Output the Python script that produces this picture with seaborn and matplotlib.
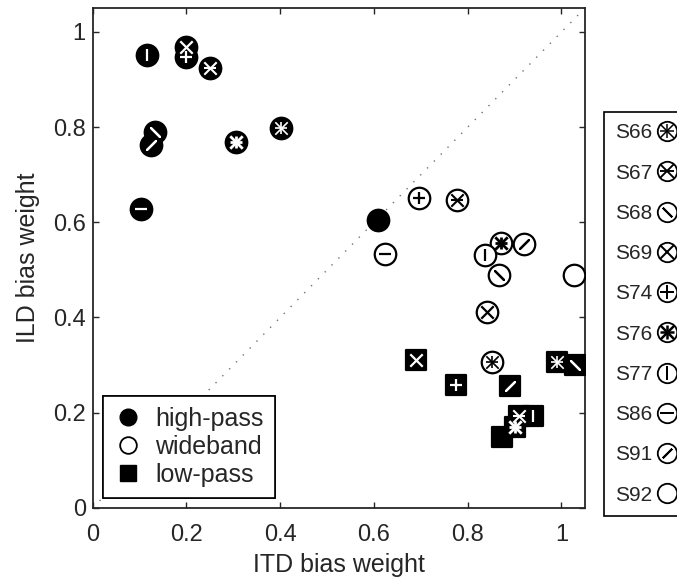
"""Scatter of ITD vs ILD bias weights,
one symbol per subject, fill/shape per filter condition.
"""
import numpy as np
import pandas as pd

import seaborn as sea
import matplotlib.pyplot as plt
from matplotlib.lines import Line2D

sea.set_style("ticks")
plt.rcParams["font.family"] = ["Liberation Sans", "DejaVu Sans"]
plt.rcParams["font.size"] = 17


subjects = ["S66", "S67", "S68", "S69", "S74", "S76", "S77", "S86", "S91", "S92"]

highpass_itd = [0.401, 0.250, 0.133, 0.199, 0.199, 0.306, 0.115, 0.104, 0.125, 0.609]
highpass_ild = [0.798, 0.925, 0.789, 0.969, 0.948, 0.768, 0.951, 0.627, 0.763, 0.604]

wideband_itd = [0.852, 0.777, 0.867, 0.841, 0.696, 0.871, 0.836, 0.623, 0.919, 1.026]
wideband_ild = [0.306, 0.646, 0.490, 0.411, 0.650, 0.556, 0.531, 0.533, 0.554, 0.490]

lowpass_itd = [0.991, 0.909, 1.029, 0.689, 0.775, 0.901, 0.940, np.nan, 0.891, 0.874]
lowpass_ild = [0.306, 0.192, 0.301, 0.311, 0.259, 0.170, 0.192, np.nan, 0.255, 0.149]

tick_vals = [0, 0.2, 0.4, 0.6, 0.8, 1]
tick_labels = ["0", "0.2", "0.4", "0.6", "0.8", "1"]


df = pd.concat([
    pd.DataFrame({"subject": subjects, "itd": highpass_itd, "ild": highpass_ild, "cond": "high-pass"}),
    pd.DataFrame({"subject": subjects, "itd": wideband_itd, "ild": wideband_ild, "cond": "wideband"}),
    pd.DataFrame({"subject": subjects, "itd": lowpass_itd, "ild": lowpass_ild, "cond": "low-pass"}),
]).dropna()


# symbol drawn inside each marker, per subject (markers, line width)
SUBJECT_SYMBOLS = {
    "S66": (["+", "x"], 1.2),
    "S67": (["x", "_"], 1.5),
    "S68": ([(2, 2, 45)], 1.6),
    "S69": (["x"], 1.6),
    "S74": (["+"], 1.6),
    "S76": (["+", "x"], 2.0),
    "S77": (["|"], 1.6),
    "S86": (["_"], 1.6),
    "S91": ([(2, 2, -45)], 1.6),
    "S92": ([], 1.6),
}

COND_STYLE = {
    # marker, face, symbol color, size
    "high-pass": ("o", "black", "white", 240),
    "wideband": ("o", "white", "black", 240),
    "low-pass": ("s", "black", "white", 210),
}
SYMBOL_SIZE = 80


fig = plt.figure(figsize=(6.77, 5.83), dpi=100)
ax = fig.add_axes([0.137, 0.129, 0.727, 0.857])

LIM = 1.05
ax.plot([0, LIM], [0, LIM], color="0.45", lw=1, ls=(0, (1, 6)), zorder=1)

z = 2
for cond, cdf in df.groupby("cond", sort=False):
    marker, face, symcolor, size = COND_STYLE[cond]
    sea.scatterplot(data=cdf, x="itd", y="ild",
        marker=marker, s=size, color=face, edgecolor="black",
        linewidth=1.6, zorder=z, legend=False, ax=ax)
    for subj, sdf in cdf.groupby("subject"):
        syms, lw = SUBJECT_SYMBOLS[subj]
        for sym in syms:
            ax.scatter(sdf["itd"], sdf["ild"], marker=sym, s=SYMBOL_SIZE,
                c=symcolor, linewidths=lw, zorder=z + 1)
    z += 2

ax.set_xlim(0, LIM)
ax.set_ylim(0, LIM)
ax.set_xticks(tick_vals, tick_labels)
ax.set_yticks(tick_vals, tick_labels)
ax.tick_params(direction="in", top=True, right=True, length=4, width=1,
    labelsize=17)
ax.tick_params(axis="x", pad=12)
ax.tick_params(axis="y", pad=5)
for sp in ax.spines.values():
    sp.set_linewidth(1.3)
ax.set_xlabel("ITD bias weight", fontsize=18, labelpad=5)
ax.set_ylabel("ILD bias weight", fontsize=18, labelpad=9)

# condition legend inside the axes
cond_handles = [
    Line2D([], [], ls="", marker="o", ms=12, mfc="black", mec="black"),
    Line2D([], [], ls="", marker="o", ms=12, mfc="white", mec="black", mew=1.3),
    Line2D([], [], ls="", marker="s", ms=11, mfc="black", mec="black"),
]
leg = ax.legend(cond_handles, ["high-pass", "wideband", "low-pass"],
    loc="lower left", bbox_to_anchor=(0.02, 0.02), borderaxespad=0,
    fancybox=False, edgecolor="black", framealpha=1, fontsize=18,
    handlelength=1.1, handletextpad=0.55, labelspacing=0.15,
    borderpad=0.45)
leg.get_frame().set_linewidth(1.2)
ax.add_artist(leg)

# subject legend at the right side of the figure
subj_handles = []
for subj in subjects:
    syms, lw = SUBJECT_SYMBOLS[subj]
    parts = [Line2D([], [], ls="", marker="o", ms=14, mfc="white", mec="black", mew=1.3)]
    for sym in syms:
        parts.append(Line2D([], [], ls="", marker=sym, ms=9.5, mec="black", mew=lw * 0.9))
    subj_handles.append(tuple(parts))
sleg = fig.legend(subj_handles, subjects, loc="upper left",
    bbox_to_anchor=(0.892, 0.808), markerfirst=False,
    fancybox=False, edgecolor="black", framealpha=1, fontsize=15,
    handlelength=1.0, handletextpad=0.2, labelspacing=1.02,
    borderpad=0.55, borderaxespad=0)
sleg.get_frame().set_linewidth(1.2)

plt.savefig("out.png", dpi=100)
plt.close()
